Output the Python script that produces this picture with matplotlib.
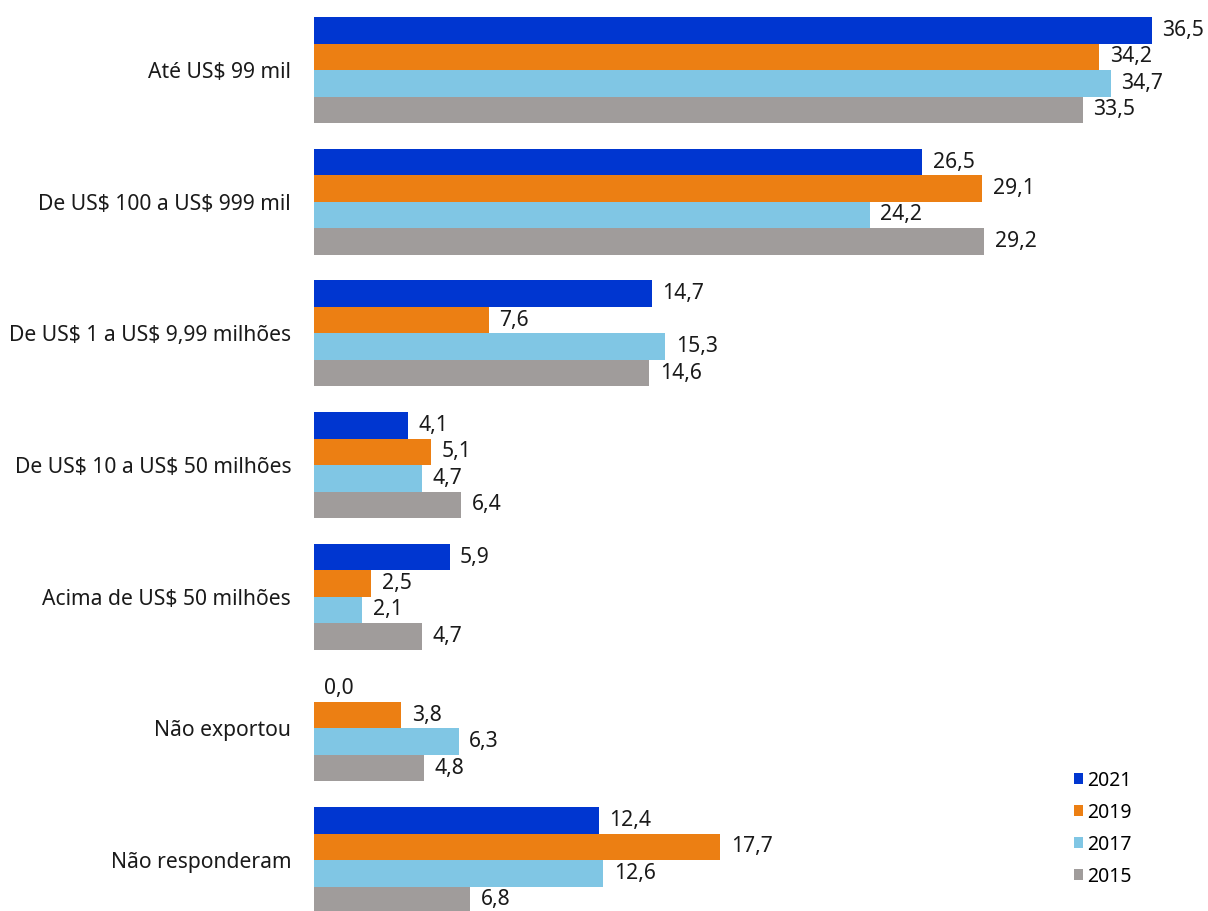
import matplotlib
matplotlib.use("Agg")
import matplotlib.pyplot as plt
import numpy as np

plt.rcParams['font.family'] = ['Noto Sans', 'DejaVu Sans']
plt.rcParams['text.parse_math'] = False

categories = ["Até US$ 99 mil", "De US$ 100 a US$ 999 mil", "De US$ 1 a US$ 9,99 milhões",
              "De US$ 10 a US$ 50 milhões", "Acima de US$ 50 milhões", "Não exportou",
              "Não responderam"]
series_names = ["2021", "2019", "2017", "2015"]
v2021 = [36.5, 26.5, 14.7, 4.1, 5.9, 0.0, 12.4]
v2019 = [34.2, 29.1, 7.6, 5.1, 2.5, 3.8, 17.7]
v2017 = [34.7, 24.2, 15.3, 4.7, 2.1, 6.3, 12.6]
v2015 = [33.5, 29.2, 14.6, 6.4, 4.7, 4.8, 6.8]
colors = ["#0036D0", "#EC7F13", "#80C6E4", "#A09C9B"]

FS = 15.2

fig = plt.figure(figsize=(12.08, 9.11), dpi=100)
ax = fig.add_axes([0.26, 0.0, 0.74, 1.0])

y = np.arange(len(categories))
h = 0.201
series = [v2021, v2019, v2017, v2015]
for i, (vals, name, c) in enumerate(zip(series, series_names, colors)):
    pos = y - 1.5 * h + i * h
    ax.barh(pos, vals, height=h, color=c, label=name)
    for p, v in zip(pos, vals):
        ax.annotate(f"{v:.1f}".replace(".", ","), xy=(v, p), xytext=(7.5, 0),
                    textcoords="offset points", va="center", ha="left",
                    fontsize=FS, color="#1a1a1a")

ax.set_xlim(0, 38.94)
ax.set_ylim(6.387, -0.532)
ax.set_yticks(y)
ax.set_yticklabels(categories, fontsize=FS, color="#1a1a1a")
ax.tick_params(axis='y', length=0, pad=16.5)
ax.set_xticks([])
for s in ax.spines.values():
    s.set_visible(False)

leg = ax.legend(loc="upper left", bbox_to_anchor=(1060 / 1208, 1 - 757 / 911),
                bbox_transform=fig.transFigure, frameon=False,
                handlelength=0.5, handleheight=0.5, handletextpad=0.22,
                labelspacing=0.62, borderpad=0.2, prop={'size': FS * 0.92})

fig.savefig("out.png", dpi=100)
